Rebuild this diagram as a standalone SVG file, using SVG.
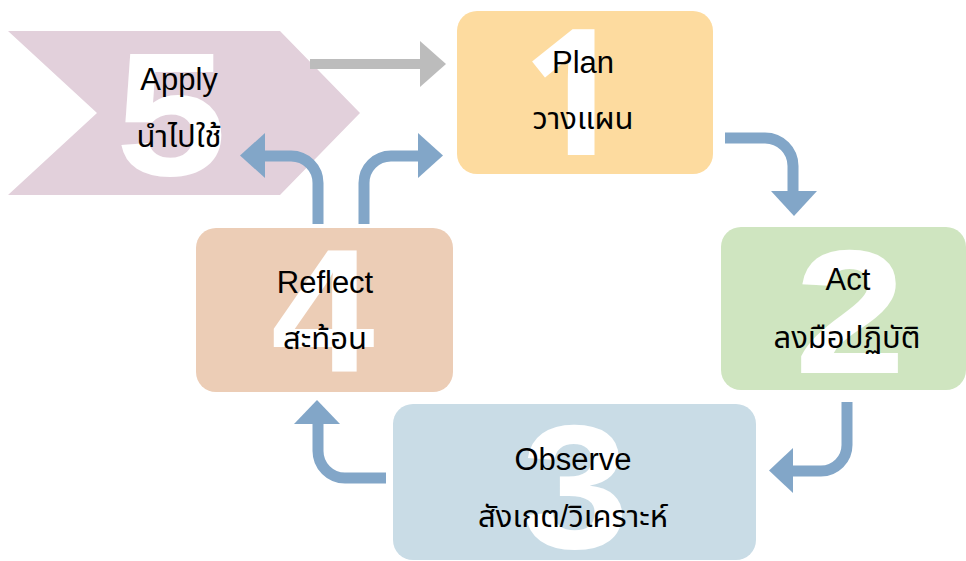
<svg xmlns="http://www.w3.org/2000/svg" width="966" height="561" viewBox="0 0 966 561">
<style>
.lbl{font-family:"Liberation Sans","Noto Sans Thai","Noto Sans","DejaVu Sans",sans-serif;font-size:31px;fill:#000;text-anchor:middle}
.num{font-family:"Liberation Sans",Arial,sans-serif;font-weight:bold;font-size:176px;fill:#fff;text-anchor:middle}
.one{font-family:"Noto Sans","Open Sans",sans-serif;font-weight:bold}
.conn{fill:none;stroke:#82a6c8;stroke-width:11}
.head{fill:#82a6c8}
</style>
<rect width="966" height="561" fill="#fff"/>
<g id="apply">
<polygon points="8,31 280,31 360,113 280,195 8,195 97,113" fill="#e2d0db"/>
<text class="num" x="171" y="175" transform="matrix(1.14,0,0,1,-23.94,0)">5</text>
<text class="lbl" x="179" y="90">Apply</text>
<text class="lbl" x="179" y="147">นำไปใช้</text>
</g>
<g id="plan">
<rect x="457" y="11" width="256" height="163" rx="20" fill="#fddb9f"/>
<text class="num one" x="572" y="155" font-size="171">1</text>
<text class="lbl" x="583" y="73">Plan</text>
<text class="lbl" x="583" y="129">วางแผน</text>
</g>
<g id="act">
<rect x="721" y="227" width="245" height="163" rx="20" fill="#cfe5c0"/>
<text class="num" x="850" y="373" transform="matrix(1.14,0,0,1,-119,0)">2</text>
<text class="lbl" x="848" y="290">Act</text>
<text class="lbl" x="847" y="348">ลงมือปฏิบัติ</text>
</g>
<g id="observe">
<rect x="393" y="404" width="363" height="156" rx="20" fill="#c9dce6"/>
<text class="num" x="575" y="548" transform="matrix(1.1,0,0,1,-57.5,0)">3</text>
<text class="lbl" x="573" y="470">Observe</text>
<text class="lbl" x="573" y="527">สังเกต/วิเคราะห์</text>
</g>
<g id="reflect">
<rect x="196" y="228" width="257" height="164" rx="20" fill="#eccdb6"/>
<text class="num" x="323" y="372" transform="matrix(1.06,0,0,1,-19.38,0)">4</text>
<text class="lbl" x="325" y="293">Reflect</text>
<text class="lbl" x="325" y="349">สะท้อน</text>
</g>
<g id="connectors">
<line x1="310" y1="64" x2="422" y2="64" stroke="#bcbcbc" stroke-width="10"/>
<polygon points="420,41 446,64 420,87" fill="#bcbcbc"/>
<path class="conn" d="M725,138 H765 A28,28 0 0 1 793,166 V193"/>
<polygon class="head" points="771,191 817,191 794,216"/>
<path class="conn" d="M847,402 V445 A26,26 0 0 1 821,471 H791"/>
<polygon class="head" points="793,448 793,493 769,470.5"/>
<path class="conn" d="M386,478 H345 A27,27 0 0 1 318,451 V422"/>
<polygon class="head" points="294,424 340,424 317,400"/>
<path class="conn" d="M318,224 V183 A27,27 0 0 0 291,156 H263"/>
<polygon class="head" points="265,133 265,178 240,155.5"/>
<path class="conn" d="M364,224 V183 A27,27 0 0 1 391,156 H420"/>
<polygon class="head" points="418,133 418,178 443,155.5"/>
</g>
</svg>
